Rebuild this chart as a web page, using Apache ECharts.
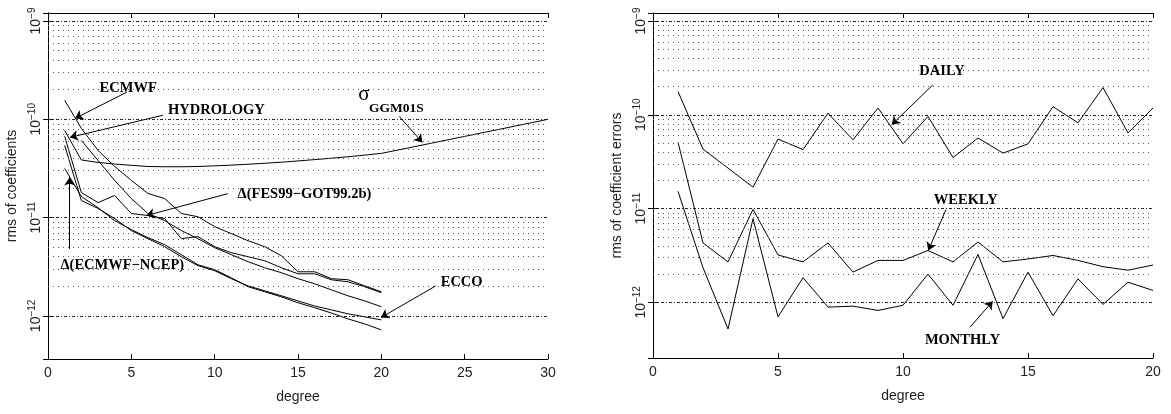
<!DOCTYPE html>
<html>
<head>
<meta charset="utf-8">
<script src="https://cdn.jsdelivr.net/npm/echarts@6/dist/echarts.min.js"></script>
<style>
html, body { margin: 0; padding: 0; background: #fff; }
#chart { width: 1171px; height: 414px; }
</style>
</head>
<body>
<div id="chart"></div>
<script>
// degrees
var degrees20 = [1, 2, 3, 4, 5, 6, 7, 8, 9, 10, 11, 12, 13, 14, 15, 16, 17, 18, 19, 20];
var degrees30 = [1, 2, 3, 4, 5, 6, 7, 8, 9, 10, 11, 12, 13, 14, 15, 16, 17, 18, 19, 20,
                 21, 22, 23, 24, 25, 26, 27, 28, 29, 30];

// left panel: rms of coefficients
var sigmaGGM01S = [7.72e-11, 3.86e-11, 3.64e-11, 3.51e-11, 3.40e-11, 3.31e-11, 3.29e-11, 3.29e-11, 3.31e-11, 3.36e-11,
                   3.42e-11, 3.49e-11, 3.57e-11, 3.66e-11, 3.77e-11, 3.89e-11, 4.02e-11, 4.16e-11, 4.32e-11, 4.50e-11,
                   4.87e-11, 5.27e-11, 5.71e-11, 6.19e-11, 6.70e-11, 7.26e-11, 7.86e-11, 8.52e-11, 9.23e-11, 1.0e-10];
var ecmwf = [1.56e-10, 8.1e-11, 4.83e-11, 3.31e-11, 2.39e-11, 1.76e-11, 1.56e-11, 1.10e-11, 1.02e-11, 8.09e-12,
             6.87e-12, 5.82e-12, 5.06e-12, 4.09e-12, 2.81e-12, 2.81e-12, 2.39e-12, 2.33e-12, 2.02e-12, 1.76e-12];
var hydrology = [6.71e-11, 1.80e-11, 1.42e-11, 1.68e-11, 1.10e-11, 1.05e-11, 9.77e-12, 6.10e-12, 6.40e-12, 5.06e-12,
                 4.39e-12, 4.00e-12, 3.64e-12, 3.09e-12, 2.68e-12, 2.68e-12, 2.33e-12, 2.22e-12, 1.98e-12, 1.72e-12];
var fesGot = [null, 6.10e-11, 3.82e-11, 2.39e-11, 1.56e-11, 1.10e-11, 9.31e-12, 7.37e-12, 6.10e-12, 4.94e-12,
              4.19e-12, 3.56e-12, 3.09e-12, 2.75e-12, 2.39e-12, 2.12e-12, 1.84e-12, 1.60e-12, 1.42e-12, 1.24e-12];
var ecmwfNcep = [3.16e-11, 1.64e-11, 1.26e-11, 9.31e-12, 7.55e-12, 6.25e-12, 5.30e-12, 4.19e-12, 3.31e-12, 2.95e-12,
                 2.44e-12, 1.98e-12, 1.76e-12, 1.56e-12, 1.36e-12, 1.21e-12, 1.07e-12, 9.31e-13, 8.29e-13, 7.19e-13];
var ecco = [5.43e-11, 1.49e-11, 1.24e-11, 9.77e-12, 7.37e-12, 6.10e-12, 5.06e-12, 4.00e-12, 3.24e-12, 2.88e-12,
            2.39e-12, 2.02e-12, 1.80e-12, 1.60e-12, 1.42e-12, 1.26e-12, 1.15e-12, 1.05e-12, 9.77e-13, 9.10e-13];

// right panel: rms of coefficient errors
var daily = [1.77e-10, 4.3e-11, 2.7e-11, 1.69e-11, 5.5e-11, 4.25e-11, 1.04e-10, 5.4e-11, 1.18e-10, 4.9e-11,
             9.6e-11, 3.5e-11, 5.65e-11, 3.9e-11, 4.9e-11, 1.22e-10, 8.2e-11, 1.95e-10, 6.4e-11, 1.18e-10];
var weekly = [5.1e-11, 4.3e-12, 2.7e-12, 9.8e-12, 3.2e-12, 2.7e-12, 4.3e-12, 2.1e-12, 2.8e-12, 2.8e-12,
              3.57e-12, 2.7e-12, 4.4e-12, 2.7e-12, 2.9e-12, 3.16e-12, 2.8e-12, 2.4e-12, 2.2e-12, 2.5e-12];
var monthly = [1.53e-11, 2.34e-12, 5.2e-13, 7.8e-12, 7.0e-13, 1.83e-12, 8.9e-13, 9.1e-13, 8.2e-13, 9.3e-13,
               2.0e-12, 9.3e-13, 3.24e-12, 6.7e-13, 2.1e-12, 7.2e-13, 1.78e-12, 9.5e-13, 1.64e-12, 1.34e-12];

// horizontal grid levels
var majorLevels = [1e-12, 1e-11, 1e-10, 1e-9];
var minorLevels = [2e-12, 3e-12, 4e-12, 5e-12, 6e-12, 7e-12, 8e-12, 9e-12,
                   2e-11, 3e-11, 4e-11, 5e-11, 6e-11, 7e-11, 8e-11, 9e-11,
                   2e-10, 3e-10, 4e-10, 5e-10, 6e-10, 7e-10, 8e-10, 9e-10];

// annotations (degree, value)
var leftNotes = ['ECMWF', 'HYDROLOGY', 'σ', 'GGM01S', 'Δ(FES99−GOT99.2b)', 'Δ(ECMWF−NCEP)', 'ECCO'];
var leftNotesAt = [[4.81, 2.07e-10], [10.1, 1.24e-10], [18.95, 1.78e-10], [20.9, 1.29e-10],
                   [15.39, 1.72e-11], [4.46, 3.31e-12], [24.82, 2.19e-12]];
var leftArrows = [
  [[4.73, 1.89e-10], [1.62, 1.02e-10]],
  [[6.89, 1.10e-10], [1.32, 6.55e-11]],
  [[21.08, 1.07e-10], [22.46, 5.82e-11]],
  [[10.78, 1.75e-11], [5.91, 1.05e-11]],
  [[1.29, 4.80e-12], [1.29, 2.56e-11]],
  [[23.27, 2.02e-12], [19.98, 9.61e-13]]
];
var rightNotes = ['DAILY', 'WEEKLY', 'MONTHLY'];
var rightNotesAt = [[11.56, 2.94e-10], [12.51, 1.23e-11], [12.38, 3.99e-13]];
var rightArrows = [
  [[11.19, 2.08e-10], [9.55, 7.83e-11]],
  [[11.72, 9.76e-12], [11.01, 3.57e-12]],
  [[12.68, 5.42e-13], [13.59, 1.03e-12]]
];

var SANS = 'Liberation Sans';
var SERIF = 'Liberation Serif';

function pairs(xs, ys) {
  var out = [];
  for (var i = 0; i < xs.length; i++) {
    if (ys[i] != null) out.push([xs[i], ys[i]]);
  }
  return out;
}

function powLabel(v) {
  var e = Math.log10(v), r = Math.round(e);
  if (Math.abs(e - r) > 1e-6) return '';
  return '{b|10}{s|−' + (-r) + '}';
}

// dotted horizontal grid, drawn as lines across the whole x range
function gridLines(xMax) {
  var d = [];
  majorLevels.forEach(function(v) {
    d.push([{coord: [0, v], lineStyle: {color: '#222', width: 1, type: [3, 2, 1, 2]}}, {coord: [xMax, v]}]);
  });
  minorLevels.forEach(function(v) {
    d.push([{coord: [0, v], lineStyle: {color: '#555', width: 1, type: [1, 4]}}, {coord: [xMax, v]}]);
  });
  return {
    silent: true, symbol: 'none', label: {show: false},
    emphasis: {disabled: true}, data: d
  };
}

function arrows(list) {
  return {
    silent: true, symbol: ['none', 'arrow'], symbolSize: 8,
    label: {show: false}, emphasis: {disabled: true},
    lineStyle: {color: '#000', width: 1, type: 'solid'},
    data: list.map(function(a) { return [{coord: a[0]}, {coord: a[1]}]; })
  };
}

function notes(names, at) {
  return {
    silent: true, symbol: 'circle', symbolSize: 0,
    label: {
      show: true, position: 'inside', formatter: '{b}', color: '#000',
      fontFamily: SERIF, fontWeight: 'bold', fontSize: 14.5
    },
    data: names.map(function(n, i) {
      var item = {name: n, coord: at[i]};
      if (n === 'σ') item.label = {fontSize: 21, fontWeight: 'normal'};
      if (n === 'GGM01S') item.label = {fontSize: 13.5};
      return item;
    })
  };
}

function xAxisFor(gridIndex, max, top) {
  return {
    type: 'value', gridIndex: gridIndex, min: 0, max: max, interval: 5,
    position: top ? 'top' : 'bottom',
    axisLine: {onZero: false, lineStyle: {color: '#000', width: 1}},
    axisTick: {inside: true, length: 5, lineStyle: {color: '#000'}},
    splitLine: {show: false},
    axisLabel: {show: !top, color: '#222', fontSize: 14, fontFamily: SANS, margin: 7},
    name: top ? '' : 'degree', nameLocation: 'middle', nameGap: 31,
    nameTextStyle: {color: '#222', fontSize: 14, fontFamily: SANS}
  };
}

function yAxisFor(gridIndex, min, max, right, name) {
  return {
    type: 'log', logBase: 10, gridIndex: gridIndex, min: min, max: max,
    position: right ? 'right' : 'left',
    axisLine: {lineStyle: {color: '#000', width: 1}},
    axisTick: {inside: true, length: 5, lineStyle: {color: '#000'}},
    splitLine: {show: false}, minorSplitLine: {show: false},
    axisLabel: {
      show: !right, rotate: 90, interval: 0, margin: 5, formatter: powLabel,
      rich: {
        b: {fontSize: 14, fontFamily: SANS, color: '#222', lineHeight: 16, verticalAlign: 'bottom'},
        s: {fontSize: 10, fontFamily: SANS, color: '#222', lineHeight: 10, verticalAlign: 'top'}
      }
    },
    name: right ? '' : name, nameLocation: 'middle', nameGap: 29,
    nameTextStyle: {color: '#222', fontSize: 14, fontFamily: SANS}
  };
}

function line(name, xi, data, extra) {
  var s = {
    name: name, type: 'line', xAxisIndex: xi, yAxisIndex: xi,
    data: data, symbol: 'none', showSymbol: false, silent: true,
    lineStyle: {color: '#000', width: 1}, z: 3
  };
  for (var k in extra) s[k] = extra[k];
  return s;
}

var chart = echarts.init(document.getElementById('chart'));
chart.setOption({
  animation: false,
  backgroundColor: '#fff',
  grid: [
    {left: 48, top: 13, width: 500, height: 346},
    {left: 653, top: 13, width: 500, height: 345}
  ],
  xAxis: [
    xAxisFor(0, 30, false), xAxisFor(1, 20, false),
    xAxisFor(0, 30, true), xAxisFor(1, 20, true)
  ],
  yAxis: [
    yAxisFor(0, 3.64e-13, 1.207e-9, false, 'rms of coefficients'),
    yAxisFor(1, 2.55e-13, 1.216e-9, false, 'rms of coefficient errors'),
    yAxisFor(0, 3.64e-13, 1.207e-9, true, ''),
    yAxisFor(1, 2.55e-13, 1.216e-9, true, '')
  ],
  series: [
    line('sigma GGM01S', 0, pairs(degrees30, sigmaGGM01S), {markLine: gridLines(30), markPoint: notes(leftNotes, leftNotesAt)}),
    line('ECMWF', 0, pairs(degrees20, ecmwf), {markLine: arrows(leftArrows)}),
    line('HYDROLOGY', 0, pairs(degrees20, hydrology)),
    line('FES99-GOT99.2b', 0, pairs(degrees20, fesGot)),
    line('ECMWF-NCEP', 0, pairs(degrees20, ecmwfNcep)),
    line('ECCO', 0, pairs(degrees20, ecco)),
    line('DAILY', 1, pairs(degrees20, daily), {markLine: gridLines(20), markPoint: notes(rightNotes, rightNotesAt)}),
    line('WEEKLY', 1, pairs(degrees20, weekly), {markLine: arrows(rightArrows)}),
    line('MONTHLY', 1, pairs(degrees20, monthly))
  ]
});
</script>
</body>
</html>
